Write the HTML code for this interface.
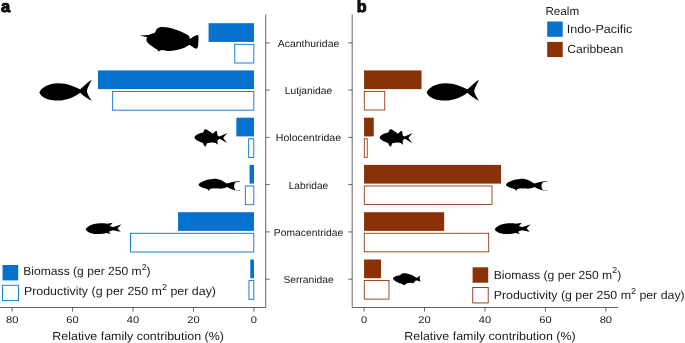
<!DOCTYPE html><html><head><meta charset="utf-8"><title>fig</title><style>html,body{margin:0;padding:0;background:#fff}svg{display:block;will-change:transform}text{font-family:"Liberation Sans",sans-serif;fill:#1a1a1a;text-rendering:geometricPrecision}</style></head><body>
<svg width="685" height="343" viewBox="0 0 685 343">
<rect width="685" height="343" fill="#fff"/>
<rect x="208.57" y="23.20" width="45.43" height="18.7" fill="#0672ce"/>
<rect x="234.76" y="44.30" width="19.04" height="18.7" fill="#fff" stroke="#0672ce" stroke-width="0.9"/>
<rect x="97.96" y="70.40" width="156.04" height="18.7" fill="#0672ce"/>
<rect x="112.67" y="91.50" width="141.13" height="18.7" fill="#fff" stroke="#0672ce" stroke-width="0.9"/>
<rect x="364.05" y="70.40" width="57.47" height="18.7" fill="#8b3109"/>
<rect x="364.30" y="91.45" width="20.45" height="18.55" fill="#fff" stroke="#8b3109" stroke-width="0.85"/>
<rect x="236.37" y="117.70" width="17.63" height="18.7" fill="#0672ce"/>
<rect x="248.66" y="138.80" width="5.14" height="18.7" fill="#fff" stroke="#0672ce" stroke-width="0.9"/>
<rect x="364.05" y="117.70" width="9.72" height="18.7" fill="#8b3109"/>
<rect x="364.30" y="138.75" width="2.93" height="18.55" fill="#fff" stroke="#8b3109" stroke-width="0.85"/>
<rect x="249.52" y="164.90" width="4.48" height="18.7" fill="#0672ce"/>
<rect x="245.33" y="186.00" width="8.47" height="18.7" fill="#fff" stroke="#0672ce" stroke-width="0.9"/>
<rect x="364.05" y="164.90" width="136.95" height="18.7" fill="#8b3109"/>
<rect x="364.30" y="185.95" width="127.73" height="18.55" fill="#fff" stroke="#8b3109" stroke-width="0.85"/>
<rect x="178.05" y="212.20" width="75.95" height="18.7" fill="#0672ce"/>
<rect x="130.50" y="233.30" width="123.30" height="18.7" fill="#fff" stroke="#0672ce" stroke-width="0.9"/>
<rect x="364.05" y="212.20" width="80.13" height="18.7" fill="#8b3109"/>
<rect x="364.30" y="233.25" width="124.41" height="18.55" fill="#fff" stroke="#8b3109" stroke-width="0.85"/>
<rect x="250.27" y="259.50" width="3.73" height="18.7" fill="#0672ce"/>
<rect x="248.96" y="280.60" width="4.84" height="18.7" fill="#fff" stroke="#0672ce" stroke-width="0.9"/>
<rect x="364.05" y="259.50" width="16.97" height="18.7" fill="#8b3109"/>
<rect x="364.30" y="280.55" width="24.68" height="18.55" fill="#fff" stroke="#8b3109" stroke-width="0.85"/>
<g stroke="#404040" stroke-width="0.8" fill="none">
<path d="M265.7,14.5V307.5H0"/>
<path d="M352.2,14.5V307.5H618"/>
<path d="M265.7,42.9h4"/><path d="M352.2,42.9h-4"/>
<path d="M265.7,90.1h4"/><path d="M352.2,90.1h-4"/>
<path d="M265.7,137.4h4"/><path d="M352.2,137.4h-4"/>
<path d="M265.7,184.6h4"/><path d="M352.2,184.6h-4"/>
<path d="M265.7,231.9h4"/><path d="M352.2,231.9h-4"/>
<path d="M265.7,279.2h4"/><path d="M352.2,279.2h-4"/>
<path d="M253.90,307.5v4.1"/><path d="M364.10,307.5v4.1"/>
<path d="M193.46,307.5v4.1"/><path d="M424.54,307.5v4.1"/>
<path d="M133.02,307.5v4.1"/><path d="M484.98,307.5v4.1"/>
<path d="M72.58,307.5v4.1"/><path d="M545.42,307.5v4.1"/>
<path d="M12.14,307.5v4.1"/><path d="M605.86,307.5v4.1"/>
</g>
<text x="277.75" y="46.90" font-size="10.2" textLength="61.5" lengthAdjust="spacingAndGlyphs">Acanthuridae</text>
<text x="284.70" y="94.10" font-size="10.2" textLength="47.6" lengthAdjust="spacingAndGlyphs">Lutjanidae</text>
<text x="275.85" y="141.40" font-size="10.2" textLength="65.3" lengthAdjust="spacingAndGlyphs">Holocentridae</text>
<text x="288.70" y="188.60" font-size="10.2" textLength="39.6" lengthAdjust="spacingAndGlyphs">Labridae</text>
<text x="273.80" y="235.90" font-size="10.2" textLength="69.4" lengthAdjust="spacingAndGlyphs">Pomacentridae</text>
<text x="283.40" y="283.20" font-size="10.2" textLength="50.2" lengthAdjust="spacingAndGlyphs">Serranidae</text>
<text x="250.80" y="322.9" font-size="9.8" fill="#333" textLength="6.2" lengthAdjust="spacingAndGlyphs">0</text>
<text x="361.00" y="322.9" font-size="9.8" fill="#333" textLength="6.2" lengthAdjust="spacingAndGlyphs">0</text>
<text x="187.26" y="322.9" font-size="9.8" fill="#333" textLength="12.4" lengthAdjust="spacingAndGlyphs">20</text>
<text x="418.34" y="322.9" font-size="9.8" fill="#333" textLength="12.4" lengthAdjust="spacingAndGlyphs">20</text>
<text x="126.82" y="322.9" font-size="9.8" fill="#333" textLength="12.4" lengthAdjust="spacingAndGlyphs">40</text>
<text x="478.78" y="322.9" font-size="9.8" fill="#333" textLength="12.4" lengthAdjust="spacingAndGlyphs">40</text>
<text x="66.38" y="322.9" font-size="9.8" fill="#333" textLength="12.4" lengthAdjust="spacingAndGlyphs">60</text>
<text x="539.22" y="322.9" font-size="9.8" fill="#333" textLength="12.4" lengthAdjust="spacingAndGlyphs">60</text>
<text x="5.94" y="322.9" font-size="9.8" fill="#333" textLength="12.4" lengthAdjust="spacingAndGlyphs">80</text>
<text x="599.66" y="322.9" font-size="9.8" fill="#333" textLength="12.4" lengthAdjust="spacingAndGlyphs">80</text>
<text x="52.3" y="340.3" font-size="11.6" textLength="171.6" lengthAdjust="spacingAndGlyphs">Relative family contribution (%)</text>
<text x="404.3" y="340.3" font-size="11.6" textLength="171.4" lengthAdjust="spacingAndGlyphs">Relative family contribution (%)</text>
<text x="1.1" y="12.4" font-size="16.6" font-weight="bold" fill="#000" stroke="#000" stroke-width="0.9" stroke-linejoin="round">a</text>
<text x="356.8" y="12.2" font-size="16.2" font-weight="bold" fill="#000" stroke="#000" stroke-width="0.9" stroke-linejoin="round">b</text>
<text x="545.4" y="14.7" font-size="11.6" textLength="33.8" lengthAdjust="spacingAndGlyphs">Realm</text>
<rect x="547.2" y="21.5" width="15.5" height="15.3" fill="#0672ce"/>
<rect x="547.2" y="41.9" width="15.5" height="15.1" fill="#8b3109"/>
<text x="566.8" y="33" font-size="11.8" textLength="65.6" lengthAdjust="spacingAndGlyphs">Indo-Pacific</text>
<text x="567.2" y="52.7" font-size="11.8" textLength="56.2" lengthAdjust="spacingAndGlyphs">Caribbean</text>
<rect x="2.6" y="265" width="15.6" height="15.4" fill="#0672ce"/>
<rect x="2.5" y="285.3" width="16.0" height="15.3" fill="#fff" stroke="#0672ce" stroke-width="0.9"/>
<text x="23.3" y="275.1" font-size="11.8" textLength="127.3" lengthAdjust="spacingAndGlyphs">Biomass (g per 250 m<tspan font-size="8.6" dy="-5.4">2</tspan><tspan dy="5.4">)</tspan></text>
<text x="23.9" y="295.0" font-size="11.8" textLength="192.1" lengthAdjust="spacingAndGlyphs">Productivity (g per 250 m<tspan font-size="8.6" dy="-5.4">2</tspan><tspan dy="5.4"> per day)</tspan></text>
<rect x="472.6" y="267.3" width="15.6" height="15.4" fill="#8b3109"/>
<rect x="472.75" y="287.45" width="15.45" height="15.5" fill="#fff" stroke="#8b3109" stroke-width="0.9"/>
<text x="493.7" y="278.6" font-size="11.8" textLength="127.5" lengthAdjust="spacingAndGlyphs">Biomass (g per 250 m<tspan font-size="8.6" dy="-5.4">2</tspan><tspan dy="5.4">)</tspan></text>
<text x="493.7" y="299.1" font-size="11.8" textLength="191.0" lengthAdjust="spacingAndGlyphs">Productivity (g per 250 m<tspan font-size="8.6" dy="-5.4">2</tspan><tspan dy="5.4"> per day)</tspan></text>
<path transform="translate(130,15) scale(0.11679)" d="M85,175 L160,171 C185,160 205,155 215,150 C222,128 230,112 250,106 C290,98 350,110 400,128 C440,140 480,160 505,180 L515,205 C540,190 560,175 577,170 C590,180 588,200 585,240 C584,265 580,285 572,290 C550,285 530,270 510,255 C490,268 470,280 440,290 C400,303 360,310 320,308 C300,308 285,304 268,300 L245,312 L232,295 C210,285 195,275 180,262 C165,250 155,240 150,235 C140,225 138,212 142,205 C140,198 145,192 150,190 L120,185 Z" fill="#000"/>
<path transform="translate(30,70) scale(0.11679)" d="M80,192 C95,150 160,113 240,113 C320,113 390,145 430,165 C462,136 498,100 529,83 C508,125 490,155 487,180 C490,205 508,235 529,264 C495,248 458,224 430,195 C390,225 320,262 240,262 C160,262 95,235 80,192 Z" fill="#000"/>
<path transform="translate(417.31,70) scale(0.11679)" d="M80,192 C95,150 160,113 240,113 C320,113 390,145 430,165 C462,136 498,100 529,83 C508,125 490,155 487,180 C490,205 508,235 529,264 C495,248 458,224 430,195 C390,225 320,262 240,262 C160,262 95,235 80,192 Z" fill="#000"/>
<path transform="translate(185,120) scale(0.087413)" d="M108,200 C112,180 135,165 180,150 L208,142 L222,108 L245,105 C265,118 285,132 318,157 L350,125 L366,130 L372,178 L395,190 C425,175 455,160 485,148 C465,170 445,190 437,205 C450,225 468,245 482,262 C455,250 425,232 395,215 L372,238 L374,282 L350,262 C335,260 315,258 300,258 L252,265 L237,307 L215,290 L205,262 C185,255 165,248 150,240 C125,228 110,215 108,200 Z" fill="#000"/>
<path transform="translate(370.2,120) scale(0.087413)" d="M108,200 C112,180 135,165 180,150 L208,142 L222,108 L245,105 C265,118 285,132 318,157 L350,125 L366,130 L372,178 L395,190 C425,175 455,160 485,148 C465,170 445,190 437,205 C450,225 468,245 482,262 C455,250 425,232 395,215 L372,238 L374,282 L350,262 C335,260 315,258 300,258 L252,265 L237,307 L215,290 L205,262 C185,255 165,248 150,240 C125,228 110,215 108,200 Z" fill="#000"/>
<path transform="translate(195,170) scale(0.087413)" d="M40,170 C45,150 75,135 130,115 C150,108 170,104 190,106 C210,100 235,100 255,104 C280,108 310,120 340,140 L365,155 C390,148 420,138 460,132 L515,127 L515,132 C490,135 470,138 460,142 C445,160 442,200 460,225 C475,230 495,232 515,233 L515,238 L460,233 C430,225 395,210 365,195 C350,205 335,210 320,210 C300,215 275,214 260,210 C245,214 225,212 215,210 L170,218 L160,240 L143,220 C110,212 75,200 60,190 C48,184 42,178 40,170 Z" fill="#000"/>
<path transform="translate(502.4,170) scale(0.087413)" d="M40,170 C45,150 75,135 130,115 C150,108 170,104 190,106 C210,100 235,100 255,104 C280,108 310,120 340,140 L365,155 C390,148 420,138 460,132 L515,127 L515,132 C490,135 470,138 460,142 C445,160 442,200 460,225 C475,230 495,232 515,233 L515,238 L460,233 C430,225 395,210 365,195 C350,205 335,210 320,210 C300,215 275,214 260,210 C245,214 225,212 215,210 L170,218 L160,240 L143,220 C110,212 75,200 60,190 C48,184 42,178 40,170 Z" fill="#000"/>
<path transform="translate(80,213) scale(0.087413)" d="M65,190 C72,165 110,140 160,126 C200,116 260,112 310,122 C330,118 350,114 372,114 C360,128 348,142 342,152 L380,160 C410,150 445,138 477,128 C460,145 440,162 430,176 C440,190 455,202 466,213 C450,212 435,208 420,205 L375,196 C360,202 345,208 330,214 L352,240 C335,236 318,232 300,228 C275,234 250,238 230,239 C205,242 185,242 165,240 C135,236 110,228 90,215 C75,206 68,198 65,190 Z" fill="#000"/>
<path transform="translate(489.1,213) scale(0.087413)" d="M65,190 C72,165 110,140 160,126 C200,116 260,112 310,122 C330,118 350,114 372,114 C360,128 348,142 342,152 L380,160 C410,150 445,138 477,128 C460,145 440,162 430,176 C440,190 455,202 466,213 C450,212 435,208 420,205 L375,196 C360,202 345,208 330,214 L352,240 C335,236 318,232 300,228 C275,234 250,238 230,239 C205,242 185,242 165,240 C135,236 110,228 90,215 C75,206 68,198 65,190 Z" fill="#000"/>
<path transform="translate(385,265) scale(0.087413)" d="M90,155 C96,138 122,124 170,117 L195,98 C210,93 230,93 245,98 C265,103 292,108 322,123 C337,130 347,138 352,144 L365,145 L400,124 C399,138 397,148 397,156 C399,168 403,178 408,191 L370,177 L352,177 C342,190 332,200 322,208 L290,203 L252,208 L217,232 L193,217 C183,212 176,210 168,208 C148,202 132,194 117,184 C102,175 94,165 90,155 Z" fill="#000"/>
</svg></body></html>
